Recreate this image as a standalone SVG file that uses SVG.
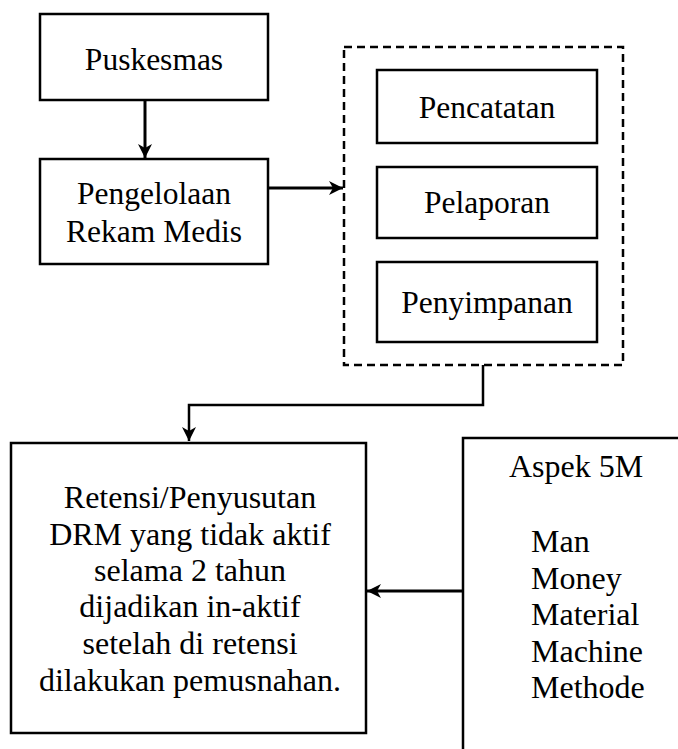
<svg xmlns="http://www.w3.org/2000/svg" width="678" height="749" viewBox="0 0 678 749">
<style>
.box{fill:#fff;stroke:#000;stroke-width:2.5}
.dash{fill:none;stroke:#000;stroke-width:2.5;stroke-dasharray:8 5}
.c{text-anchor:middle}
.ln{fill:none;stroke:#000}
</style>
<defs>
<marker id="ah" markerUnits="userSpaceOnUse" markerWidth="20" markerHeight="20" viewBox="0 0 20 20" refX="16" refY="10" orient="auto">
<path d="M2,3 L16,10 L2,17 L6,10 Z" fill="#000"/>
</marker>
</defs>
<g id="connectors">
<line class="ln" x1="145" y1="100" x2="145" y2="158" stroke-width="3" marker-end="url(#ah)"/>
<line class="ln" x1="268" y1="188" x2="343" y2="188" stroke-width="3" marker-end="url(#ah)"/>
<polyline class="ln" points="483,365 483,405 189,405 189,441" stroke-width="2.5" marker-end="url(#ah)"/>
<line class="ln" x1="463" y1="591" x2="367" y2="591" stroke-width="3" marker-end="url(#ah)"/>
</g>
<g id="puskesmas">
<rect class="box" x="40" y="14" width="228" height="86"/>
<text class="c" x="154" y="70" font-family="Liberation Serif" font-size="31.5">Puskesmas</text>
</g>
<g id="pengelolaan">
<rect class="box" x="40" y="159" width="228" height="105"/>
<text class="c" x="154" y="204" font-family="Liberation Serif" font-size="31.5">Pengelolaan</text>
<text class="c" x="154" y="242" font-family="Liberation Serif" font-size="31.5">Rekam Medis</text>
</g>
<g id="group-dashed">
<rect class="dash" x="344" y="47" width="279" height="318"/>
</g>
<g id="pencatatan">
<rect class="box" x="377" y="70" width="220" height="73"/>
<text class="c" x="487" y="118" font-family="Liberation Serif" font-size="31.5">Pencatatan</text>
</g>
<g id="pelaporan">
<rect class="box" x="377" y="167" width="220" height="71"/>
<text class="c" x="487" y="213" font-family="Liberation Serif" font-size="31.5">Pelaporan</text>
</g>
<g id="penyimpanan">
<rect class="box" x="377" y="262" width="220" height="80"/>
<text class="c" x="487" y="313" font-family="Liberation Serif" font-size="31.5">Penyimpanan</text>
</g>
<g id="retensi">
<rect class="box" x="11" y="443" width="355" height="290"/>
<text class="c" x="190" y="508" font-family="Liberation Serif" font-size="32">Retensi/Penyusutan</text>
<text class="c" x="190" y="545" font-family="Liberation Serif" font-size="32">DRM yang tidak aktif</text>
<text class="c" x="190" y="581" font-family="Liberation Serif" font-size="32">selama 2 tahun</text>
<text class="c" x="190" y="617" font-family="Liberation Serif" font-size="32">dijadikan in-aktif</text>
<text class="c" x="190" y="654" font-family="Liberation Serif" font-size="32">setelah di retensi</text>
<text class="c" x="190" y="691" font-family="Liberation Serif" font-size="32">dilakukan pemusnahan.</text>
</g>
<g id="aspek5m">
<rect class="box" x="463" y="438" width="230" height="330"/>
<text class="c" x="576" y="477" font-family="Liberation Serif" font-size="32">Aspek 5M</text>
<text x="531" y="552" font-family="Liberation Serif" font-size="32">Man</text>
<text x="531" y="589" font-family="Liberation Serif" font-size="32">Money</text>
<text x="531" y="625" font-family="Liberation Serif" font-size="32">Material</text>
<text x="531" y="662" font-family="Liberation Serif" font-size="32">Machine</text>
<text x="531" y="698" font-family="Liberation Serif" font-size="32">Methode</text>
</g>
</svg>
